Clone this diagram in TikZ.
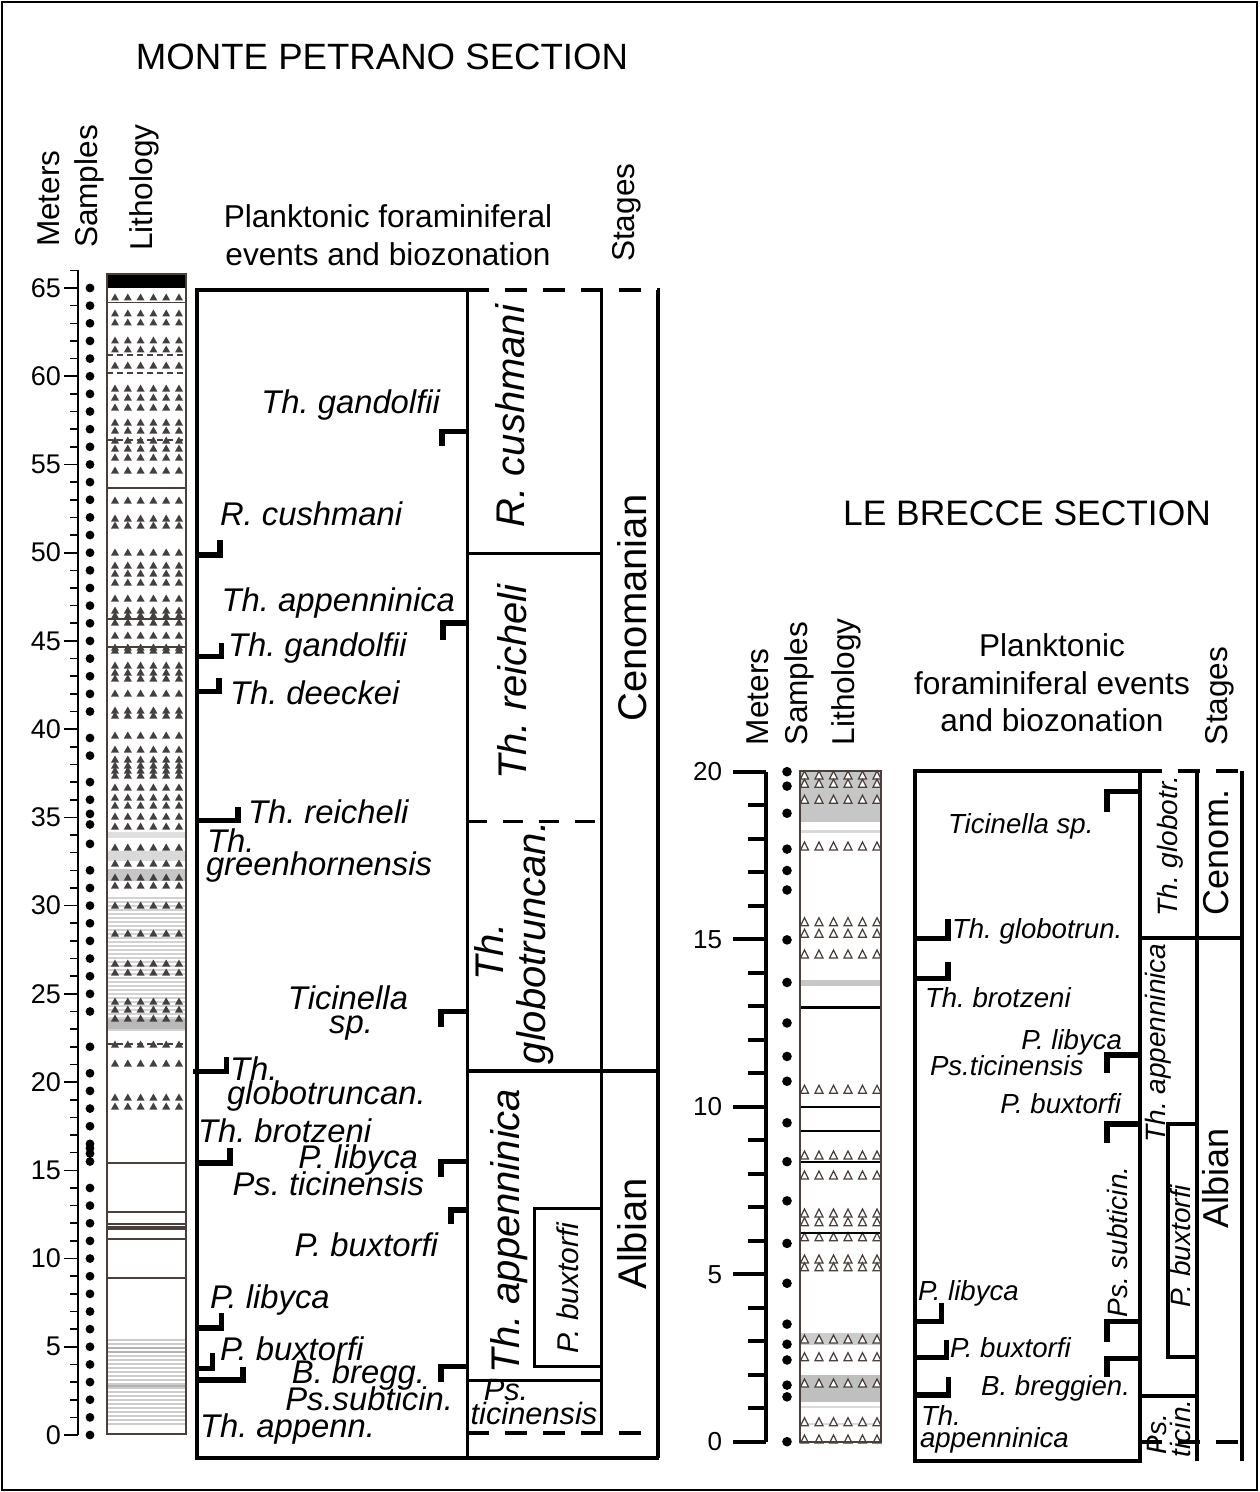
\documentclass[tikz,border=0pt]{standalone}
\usepackage{fontspec}
\setmainfont{Liberation Sans}
\definecolor{lithline}{HTML}{4A3F3A}
\definecolor{trifill}{HTML}{454040}
\frenchspacing
\begin{document}
\frenchspacing
\begin{tikzpicture}[x=0.5pt,y=-0.5pt,line join=miter,
  every node/.style={inner sep=0pt, outer sep=0pt},
  ttl/.style={font=\fontsize{18.3}{22}\selectfont},
  lbttl/.style={font=\fontsize{17.7}{21}\selectfont},
  hdr/.style={font=\fontsize{15.8}{19}\selectfont},
  ev/.style={font=\fontsize{16.4}{19}\selectfont\itshape},
  evs/.style={font=\fontsize{15.4}{18}\selectfont\itshape},
  lbev/.style={font=\fontsize{13.8}{16}\selectfont\itshape},
  zn/.style={font=\fontsize{20}{24}\selectfont\itshape, rotate=90, anchor=base},
  lbzn/.style={font=\fontsize{14}{16}\selectfont\itshape, rotate=90, anchor=base},
  stg/.style={font=\fontsize{20}{24}\selectfont, rotate=90, anchor=base},
  lbstg/.style={font=\fontsize{18}{22}\selectfont, rotate=90, anchor=base},
  num/.style={font=\fontsize{13.5}{16}\selectfont, anchor=east},
  lbnum/.style={font=\fontsize{13}{16}\selectfont, anchor=east},
  frame/.style={line width=2pt},
  zline/.style={line width=1.5pt},
  dsh/.style={line width=2pt, dash pattern=on 11pt off 8pt},
  marker/.style={line width=2.6pt, line cap=butt},
  mptri/.style={fill=trifill},
  lbtri/.style={draw=lithline, fill=white, line width=0.6pt},
  lith/.style={draw=lithline, line width=0.9pt},
  dot/.style={fill=black}
]
\useasboundingbox (0,0) rectangle (1259,1492);
\draw[line width=0.8pt] (2,2) rectangle (1257,1490);

% ================= MONTE PETRANO =================
\node[ttl, anchor=base] (mpTitle) at (382,70) {MONTE PETRANO SECTION};
\node[hdr, rotate=90, anchor=base west] (mpMeters) at (59,247) {Meters};
\node[hdr, rotate=90, anchor=base west] (mpSamples) at (97,248) {Samples};
\node[hdr, rotate=90, anchor=base west] (mpLith) at (152,251) {Lithology};
\node[hdr, anchor=base] (mpPF1) at (388,228) {Planktonic foraminiferal};
\node[hdr, anchor=base] (mpPF2) at (388,266) {events and biozonation};
\node[hdr, rotate=90, anchor=base west] (mpStages) at (634,262) {Stages};

% meters axis
\draw[line width=1pt] (78,270) -- (78,1435);
\foreach \m in {0,...,66}{\draw[line width=0.8pt] (70,{1435-17.646*\m}) -- (78,{1435-17.646*\m});}
\foreach \m in {0,5,...,65}{\draw[line width=0.8pt] (64,{1435-17.646*\m}) -- (78,{1435-17.646*\m});
  \node[num] (mpn\m) at (61,{1435-17.646*\m}) {\m};}

% samples
\foreach \m in {0,...,14}{\fill[dot] (90,{1435-17.646*\m}) circle (2.2pt);}
\foreach \m in {15.5,15.95,16.25,16.5,17.5,18.5,19.5,20.5,22,24,25,26,27,28,29,30,31,32,33.5,34.6,35.2,36,37,38.5,39.5}{\fill[dot] (90,{1435-17.646*\m}) circle (2.2pt);}
\foreach \m in {41,...,65}{\fill[dot] (90,{1435-17.646*\m}) circle (2.2pt);}

% lithology
\fill[black] (107,274) rectangle (186,288);
\fill[gray!25] (107,832) rectangle (186,838);
\fill[gray!30] (107,851) rectangle (186,861);
\fill[gray!45] (107,869) rectangle (186,881);
\foreach \y in {898,902,...,1030}{\draw[gray!35, line width=0.9pt] (108,\y) -- (185,\y);}
\fill[gray!55] (107,1019) rectangle (186,1029);
\foreach \y in {1340,1344,...,1424}{\draw[gray!40, line width=0.6pt] (108,\y) -- (185,\y);}
\foreach \y in {1348,1352,1386}{\draw[gray!60, line width=0.9pt] (108,\y) -- (185,\y);}
\foreach \y in {297,313,322,340,349,365,388,397,407,422,430,440,448,457,470,500,518,525,552,565,573,582,598,610,615,622,635,647,650,665,672,678,693,710,715,735,749,759,765,770,775,787,797,805,816,826,847,863,877,885,905,933,963,972,1001,1009,1018,1044,1063,1097,1106}{
  \foreach \i in {0,...,5}{\fill[mptri] ({111+12.8*\i},{\y+3.5}) -- ++(8,0) -- ++(-4,-7) -- cycle;}}
\foreach \y in {302.7,488,619,647,1163,1212,1224,1227,1229,1239,1278}{\draw[lithline, line width=0.6pt] (107,\y) -- (186,\y);}
\foreach \y in {355,373,440,1044}{\draw[lithline, line width=0.6pt, dash pattern=on 3pt off 2pt] (107,\y) -- (186,\y);}
\draw[lith] (107,274) rectangle (186,1434);

% frame and zones
\draw[frame] (467,290) -- (197,290) -- (197,1458) -- (659,1458);
\draw[zline] (467,290) -- (467,1458);
\draw[zline] (601,290) -- (601,1431);
\draw[frame] (658,290) -- (658,1458);
\draw[dsh] (467,290) -- (660,290);
\draw[zline] (467,553) -- (601,553);
\draw[zline, dash pattern=on 10pt off 8pt] (467,821) -- (601,821);
\draw[frame] (467,1071) -- (660,1071);
\draw[zline] (467,1380) -- (601,1380);
\draw[zline] (601,1208) -- (534,1208) -- (534,1366) -- (601,1366);
\draw[dsh] (467,1433) -- (660,1433);

% markers (last occurrences, right)
\draw[marker] (467,431.7) -- (442,431.7) -- (442,446);
\draw[marker] (467,623) -- (443,623) -- (443,640);
\draw[marker] (467,1011.7) -- (441,1011.7) -- (441,1026.7);
\draw[marker] (467,1161.7) -- (441,1161.7) -- (441,1176.7);
\draw[marker] (467,1210) -- (451,1210) -- (451,1224);
\draw[marker] (467,1366.7) -- (441,1366.7) -- (441,1381.7);
% markers (first occurrences, left)
\draw[marker] (197,555) -- (220,555) -- (220,540);
\draw[marker] (197,656.7) -- (221.7,656.7) -- (221.7,642.7);
\draw[marker] (197,691.7) -- (219,691.7) -- (219,678);
\draw[marker] (197,820.7) -- (238,820.7) -- (238,807);
\draw[marker] (193,1071.7) -- (226.7,1071.7) -- (226.7,1057);
\draw[marker] (197,1163) -- (230,1163) -- (230,1148);
\draw[marker] (197,1328) -- (221.7,1328) -- (221.7,1313);
\draw[marker] (197,1368.3) -- (212.7,1368.3) -- (212.7,1353);
\draw[marker] (197,1380) -- (243,1380) -- (243,1366.7);

% event labels
\node[ev, anchor=base east] (mpe1) at (440,413) {Th. gandolfii};
\node[ev, anchor=base west] (mpe2) at (220,525) {R. cushmani};
\node[ev, anchor=base east] (mpe3) at (455,611) {Th. appenninica};
\node[ev, anchor=base west] (mpe4) at (228,656) {Th. gandolfii};
\node[ev, anchor=base west] (mpe5) at (230,704) {Th. deeckei};
\node[ev, anchor=base west] (mpe6) at (248,823) {Th. reicheli};
\node[ev, anchor=base west] (mpe7) at (207,852) {Th.};
\node[ev, anchor=base west] (mpe8) at (206,875) {greenhornensis};
\node[ev, anchor=base] (mpe9) at (348,1009) {Ticinella};
\node[ev, anchor=base] (mpe10) at (351,1033) {sp.};
\node[ev, anchor=base west] (mpe11) at (230,1080) {Th.};
\node[ev, anchor=base west] (mpe12) at (227,1104) {globotruncan.};
\node[ev, anchor=base west] (mpe13) at (198,1142) {Th. brotzeni};
\node[ev, anchor=base east] (mpe14) at (418,1168) {P. libyca};
\node[ev, anchor=base east] (mpe15) at (424,1195) {Ps. ticinensis};
\node[ev, anchor=base east] (mpe16) at (438,1256) {P. buxtorfi};
\node[ev, anchor=base west] (mpe17) at (210,1308) {P. libyca};
\node[ev, anchor=base west] (mpe18) at (220,1360) {P. buxtorfi};
\node[ev, anchor=base east] (mpe19) at (425,1383) {B. bregg.};
\node[ev, anchor=base east] (mpe20) at (453,1410) {Ps.subticin.};
\node[ev, anchor=base west] (mpe21) at (200,1437) {Th. appenn.};

% zone labels
\node[zn] (mpzR) at (524,416) {R. cushmani};
\node[zn] (mpzTr) at (526,682) {Th. reicheli};
\node[zn] (mpzTg1) at (503,952) {Th.};
\node[zn] (mpzTg2) at (545,943) {globotruncan.};
\node[zn] (mpzTa) at (519,1231) {Th. appenninica};
\node[font=\fontsize{15}{18}\selectfont\itshape, rotate=90] (mpzPb) at (568,1288) {P. buxtorfi};
\node[evs, anchor=base] (mpzPs1) at (506,1400) {Ps.};
\node[evs, anchor=base] (mpzPs2) at (534,1424) {ticinensis};

% stages
\node[stg] (mpsC) at (646,608) {Cenomanian};
\node[stg] (mpsA) at (646,1234) {Albian};

% ================= LE BRECCE =================
\node[lbttl, anchor=base] (lbTitle) at (1027,525) {LE BRECCE SECTION};
\node[hdr, rotate=90, anchor=base west] (lbMeters) at (768,745) {Meters};
\node[hdr, rotate=90, anchor=base west] (lbSamples) at (807,745) {Samples};
\node[hdr, rotate=90, anchor=base west] (lbLith) at (854,745) {Lithology};
\node[hdr, rotate=90, anchor=base west] (lbStages) at (1227,745) {Stages};
\node[hdr, anchor=base] (lbPF1) at (1052,656) {Planktonic};
\node[hdr, anchor=base] (lbPF2) at (1052,694) {foraminiferal events};
\node[hdr, anchor=base] (lbPF3) at (1052,731) {and biozonation};

% meters axis
\draw[line width=2pt] (766,771.7) -- (766,1441.7);
\foreach \m in {0,...,20}{\draw[line width=2pt] (748,{1441.7-33.5*\m}) -- (766,{1441.7-33.5*\m});}
\foreach \m in {0,5,...,20}{\draw[line width=2pt] (733,{1441.7-33.5*\m}) -- (766,{1441.7-33.5*\m});
  \node[lbnum] (lbn\m) at (722,{1441.7-33.5*\m}) {\m};}

% samples
\foreach \m in {20,19.57,18.76,17.69,17.05,16.47,14.98,13.71,12.5,11.5,10.76,9.52,8.36,7.19,5.92,4.73,3.51,2.91,2.44,1.69,1.34,0}{\fill[dot] (787,{1441.7-33.5*\m}) circle (2.4pt);}

% lithology
\fill[gray!45] (800,771) rectangle (881,822);
\draw[gray!30, line width=1.2pt] (800,831.5) -- (881,831.5);
\fill[gray!45] (800,979.5) rectangle (881,986);
\fill[gray!40] (800,1333) rectangle (881,1345);
\fill[gray!50] (800,1375) rectangle (881,1402);
\draw[gray!30, line width=1pt] (800,1406.7) -- (881,1406.7);
\draw[gray!30, line width=1pt] (800,1424) -- (881,1424);
\foreach \y in {775,783.3,799.3,846,921.7,933.3,954,1089.3,1155,1175,1213,1221.7,1236.7,1259,1266.7,1339,1356.7,1383,1421.7,1439}{
  \foreach \i in {0,...,5}{\draw[lbtri] ({800.5+14.5*\i},{\y+4}) -- ++(8,0) -- ++(-4,-8) -- cycle;}}
\foreach \y in {1007.3,1106.7,1130.7,1161.7,1232.7}{\draw[line width=1.2pt] (800,\y) -- (881,\y);}
\draw[lith] (800,771) rectangle (881,1442);

% frame and zones
\draw[frame] (915,771) rectangle (1140,1461);
\draw[frame] (1197,771) -- (1197,1461);
\draw[frame] (1242,771) -- (1242,1461);
\draw[dsh] (1140,771) -- (1244,771);
\draw[frame] (1140,938) -- (1242,938);
\draw[frame] (1140,1396) -- (1197,1396);
\draw[frame] (1197,1124) -- (1168,1124) -- (1168,1357) -- (1197,1357);
\draw[dsh] (1140,1442) -- (1250,1442);

% markers right
\draw[marker] (1140,791.7) -- (1107,791.7) -- (1107,811.7);
\draw[marker] (1140,1055) -- (1107,1055) -- (1107,1073);
\draw[marker] (1140,1124) -- (1107,1124) -- (1107,1143);
\draw[marker] (1140,1321.7) -- (1107,1321.7) -- (1107,1341.7);
\draw[marker] (1140,1358.3) -- (1107,1358.3) -- (1107,1376.7);
% markers left
\draw[marker] (915,938.3) -- (948,938.3) -- (948,919.3);
\draw[marker] (915,978.3) -- (948,978.3) -- (948,961.7);
\draw[marker] (915,1321.7) -- (941.7,1321.7) -- (941.7,1303.3);
\draw[marker] (915,1357.3) -- (946.7,1357.3) -- (946.7,1340);
\draw[marker] (915,1395) -- (948.3,1395) -- (948.3,1376.7);

% event labels
\node[lbev, anchor=base west] (lbe1) at (948,833) {Ticinella sp.};
\node[lbev, anchor=base west] (lbe2) at (952,938) {Th. globotrun.};
\node[lbev, anchor=base west] (lbe3) at (925,1007) {Th. brotzeni};
\node[lbev, anchor=base east] (lbe4) at (1122,1049) {P. libyca};
\node[lbev, anchor=base west] (lbe5) at (930,1075) {Ps.ticinensis};
\node[lbev, anchor=base east] (lbe6) at (1121,1113) {P. buxtorfi};
\node[lbev, anchor=base west] (lbe7) at (918,1300) {P. libyca};
\node[lbev, anchor=base west] (lbe8) at (950,1357) {P. buxtorfi};
\node[lbev, anchor=base east] (lbe9) at (1130,1395) {B. breggien.};
\node[lbev, anchor=base west] (lbe10) at (921,1425) {Th.};
\node[lbev, anchor=base west] (lbe11) at (920,1447) {appenninica};

% zone labels
\node[lbzn] (lbzTg) at (1177,846) {Th. globotr.};
\node[lbzn] (lbzTa) at (1165,1043) {Th. appenninica};
\node[lbzn] (lbzPs) at (1127,1242) {Ps. subticin.};
\node[lbzn] (lbzPb) at (1190,1246) {P. buxtorfi};
\node[lbzn, anchor=base west] (lbzT1) at (1166,1454) {Ps.};
\node[lbzn, anchor=base west] (lbzT2) at (1190,1457) {ticin.};

% stages
\node[lbstg] (lbsC) at (1228,852) {Cenom.};
\node[lbstg] (lbsA) at (1228,1178) {Albian};
\end{tikzpicture}
\end{document}
